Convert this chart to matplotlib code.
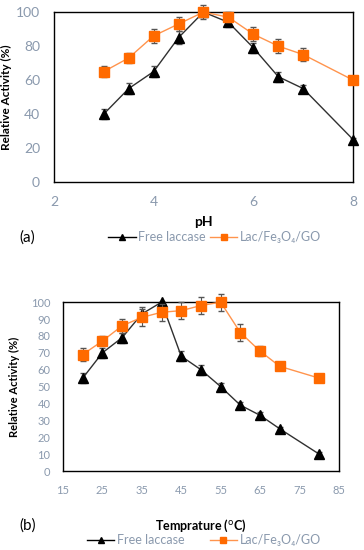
import matplotlib
matplotlib.use("Agg")
import matplotlib.pyplot as plt
from matplotlib.lines import Line2D

plt.rcParams['font.family'] = ['Lato', 'DejaVu Sans']

# (a) pH
ph = [3, 3.5, 4, 4.5, 5, 5.5, 6, 6.5, 7, 8]
ph_free = [40, 55, 65, 85, 100, 94, 79, 62, 55, 25]
ph_free_err = [3, 3, 3, 4, 4, 3, 3, 3, 2, 1]
ph_lac = [65, 73, 86, 93, 100, 97, 87, 80, 75, 60]
ph_lac_err = [3, 3, 4, 4, 2, 3, 4, 4, 4, 1]

# (b) temperature
temp = [20, 25, 30, 35, 40, 45, 50, 55, 60, 65, 70, 80]
t_free = [55, 70, 79, 93, 100, 68, 60, 50, 39, 33, 25, 10]
t_free_err = [3, 3, 3, 4, 0, 3, 3, 2, 2, 2, 1, 1]
t_lac = [69, 77, 86, 91, 94, 95, 98, 100, 82, 71, 62, 55]
t_lac_err = [4, 3, 4, 5, 5, 5, 5, 5, 5, 3, 2, 2]

orange = '#ff6a00'
orange_line = '#ff944d'
tick_col = '#8a99ad'

fig = plt.figure(figsize=(3.64, 5.5), dpi=100)


def draw(ax, x, yf, ef, yl, el):
    ax.errorbar(x, yf, yerr=ef, color='#303030', lw=1, marker='^', ms=7,
                mfc='black', mec='black', ecolor='#555555', elinewidth=0.8,
                capsize=2.5, zorder=3, clip_on=False)
    ax.errorbar(x, yl, yerr=el, color=orange_line, lw=1, marker='s', ms=7,
                mfc=orange, mec=orange, ecolor='#555555', elinewidth=0.8,
                capsize=2.5, zorder=4, clip_on=False)
    for s in ax.spines.values():
        s.set_color('black')
        s.set_linewidth(1)
    ax.tick_params(length=0, colors=tick_col)


handles = [Line2D([], [], color='black', lw=1, marker='^', ms=5),
           Line2D([], [], color=orange_line, lw=1, marker='s', ms=5,
                  mfc=orange, mec=orange)]
labels = ['Free laccase', 'Lac/Fe\u2083O\u2084/GO']

ax1 = fig.add_axes([0.148, 0.669, 0.822, 0.309])
draw(ax1, ph, ph_free, ph_free_err, ph_lac, ph_lac_err)
ax1.set_xlim(2, 8)
ax1.set_ylim(0, 100)
ax1.set_xticks([2, 4, 6, 8])
ax1.set_yticks(range(0, 101, 20))
ax1.tick_params(labelsize=10, pad=10)
ax1.set_xlabel('pH', fontsize=10, fontweight='bold', labelpad=6)
ax1.set_ylabel('Relative Activity (%)', fontsize=8.5, fontweight='bold')
ax1.yaxis.set_label_coords(-0.14, 0.5)
fig.text(0.075, 0.568, '(a)', fontsize=11, ha='center', va='center')
fig.legend(handles, labels, loc='center', bbox_to_anchor=(0.59, 0.569), ncol=2,
           frameon=False, fontsize=9, handlelength=2.2, columnspacing=0.3,
           handletextpad=0.2, labelcolor=tick_col)

ax2 = fig.add_axes([0.173, 0.1436, 0.758, 0.307])
draw(ax2, temp, t_free, t_free_err, t_lac, t_lac_err)
ax2.set_xlim(15, 85)
ax2.set_ylim(0, 100)
ax2.set_xticks(range(15, 86, 10))
ax2.set_yticks(range(0, 101, 10))
ax2.tick_params(labelsize=8)
ax2.tick_params(axis='y', pad=9)
ax2.tick_params(axis='x', pad=10)
ax2.set_xlabel('Temprature ($^{\\mathrm{o}}$C)', fontsize=9, fontweight='bold',
               labelpad=16)
ax2.set_ylabel('Relative Activity (%)', fontsize=8, fontweight='bold')
ax2.yaxis.set_label_coords(-0.156, 0.5)
fig.text(0.077, 0.045, '(b)', fontsize=11, ha='center', va='center')
fig.legend(handles, labels, loc='center', bbox_to_anchor=(0.56, 0.018), ncol=2,
           frameon=False, fontsize=9, handlelength=2.2, columnspacing=2.0,
           handletextpad=0.2, labelcolor=tick_col)

fig.savefig('out.png', dpi=100)
